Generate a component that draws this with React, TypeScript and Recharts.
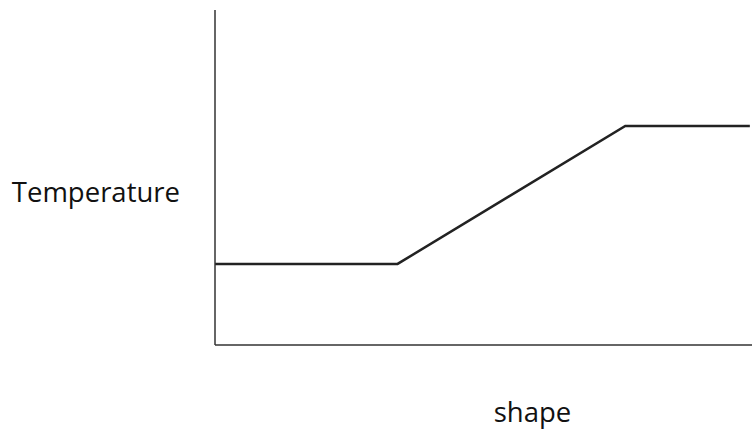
import React from 'react';
import { LineChart, Line, XAxis, YAxis, Label } from 'recharts';

const xValues = [0, 34, 76.4, 99.6];
const temperature = [24.2, 24.2, 65.4, 65.4];
const xLabel = 'shape';
const yLabel = 'Temperature';

const data = xValues.map((x, i) => ({ x, t: temperature[i] }));

export default function App() {
  return (
    <div style={{ position: 'absolute', left: 0, top: 0, background: '#fff' }}>
      <LineChart width={752} height={433} data={data} margin={{ top: 10, right: 0, left: 214, bottom: 87 }}>
        <XAxis dataKey="x" type="number" domain={[0, 100]} tick={false} tickLine={false} height={1}
          axisLine={{ stroke: '#333', strokeWidth: 1.5 }}>
          <Label value={xLabel} position="bottom" offset={56} dx={49}
            style={{ fontFamily: 'Open Sans', fontSize: 27.5, fill: '#111' }} />
        </XAxis>
        <YAxis type="number" domain={[0, 100]} tick={false} tickLine={false} width={1}
          axisLine={{ stroke: '#333', strokeWidth: 1.5 }}>
          <Label value={yLabel} position="left" offset={34} angle={0} dy={15}
            style={{ fontFamily: 'Open Sans', fontSize: 27.5, fill: '#111', textAnchor: 'end' }} />
        </YAxis>
        <Line dataKey="t" stroke="#222" strokeWidth={2.5} dot={false} isAnimationActive={false} type="linear" />
      </LineChart>
    </div>
  );
}
